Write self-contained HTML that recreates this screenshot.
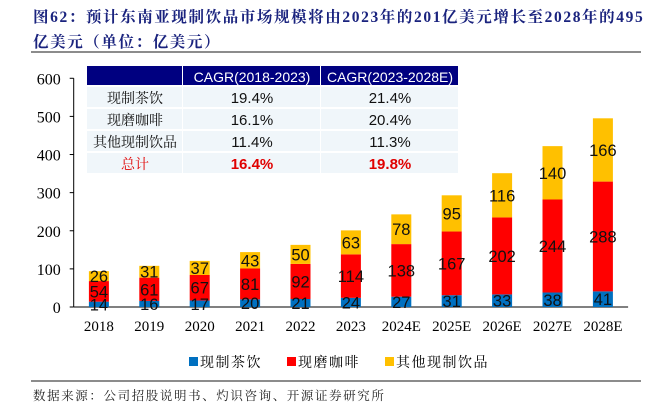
<!DOCTYPE html>
<html><head><meta charset="utf-8"><style>
body{margin:0;background:#fff;width:657px;height:408px;overflow:hidden;position:relative;font-family:"Liberation Sans","Noto Sans CJK SC",sans-serif}
.t{position:absolute;left:33px;top:5px;font-family:"Liberation Serif","Noto Serif CJK SC",serif;font-weight:bold;font-size:15.5px;color:#1a237e;line-height:25px;letter-spacing:1.6px;white-space:nowrap}
</style></head><body>
<div class="t">图62：预计东南亚现制饮品市场规模将由2023年的201亿美元增长至2028年的495<br>亿美元（单位：亿美元）</div>
<div style="position:absolute;left:31px;top:51px;width:610px;height:2px;background:#8c8c8c"></div>
<svg id="c" width="657" height="408" style="position:absolute;left:0;top:0"></svg>
<div style="position:absolute;left:31px;top:380px;width:610px;height:2px;background:#8c8c8c"></div>
<div style="position:absolute;left:33px;top:386px;font-size:12.5px;letter-spacing:1.6px;color:#222;font-family:'Liberation Serif','Noto Serif CJK SC',serif">数据来源：公司招股说明书、灼识咨询、开源证券研究所</div>
<script>
const categories=["2018","2019","2020","2021","2022","2023","2024E","2025E","2026E","2027E","2028E"];
const tea=[14,16,17,20,21,24,27,31,33,38,41];
const coffee=[54,61,67,81,92,114,138,167,202,244,288];
const other=[26,31,37,43,50,63,78,95,116,140,166];
const yTicks=[0,100,200,300,400,500,600];
const NS="http://www.w3.org/2000/svg",svg=document.getElementById('c');
const x0=73.7,bw=50.4,y0=307,k=0.3812;
const y=v=>y0-v*k, xc=i=>x0+bw*(i+0.5);
function mk(t,a,txt){const e=document.createElementNS(NS,t);for(const n in a)e.setAttribute(n,a[n]);if(txt!=null)e.textContent=txt;svg.appendChild(e);return e;}
let e=mk('line',{x1:x0,y1:y(600),x2:x0,y2:y0,stroke:'#000'});


e=mk('line',{x1:x0,y1:y0,x2:x0+bw*11,y2:y0,stroke:'#000'});


yTicks.forEach(v=>{mk('line',{x1:x0-4,y1:y(v),x2:x0,y2:y(v),stroke:'#000'});
e=mk('text',{x:x0-13,y:y(v)+6,'text-anchor':'end','font-size':16,'font-family':'Liberation Serif,serif'},v);

});
const cols=['#0070c0','#ff0000','#ffc000'],ser=[tea,coffee,other],names=['tea','coffee','other'];
categories.forEach((c,i)=>{let base=0;
ser.forEach((s,j)=>{const v=s[i];
e=mk('rect',{x:xc(i)-10,y:y(base+v),width:20,height:v*k,fill:cols[j]});


base+=v;});
base=0;
ser.forEach((s,j)=>{const v=s[i];
e=mk('text',{x:xc(i),y:y(base+v/2)+6,'text-anchor':'middle','font-size':16.5,fill:'#111'},v);


base+=v;});
e=mk('text',{x:xc(i),y:331,'text-anchor':'middle','font-size':15,'font-family':'Liberation Serif,serif'},c);

});
const leg=[['现制茶饮',200],['现磨咖啡',298],['其他现制饮品',396]];
leg.forEach((l,j)=>{mk('rect',{x:l[1]-11,y:357,width:9,height:9,fill:cols[j]});
e=mk('text',{x:l[1],y:367,'font-size':14,'letter-spacing':1.5,'font-family':'Noto Serif CJK SC,serif'},l[0]);

});
const tx=[87,183,321,459],ty=[66,86,108,130,152,174];
const rows=[['现制茶饮','19.4%','21.4%'],['现磨咖啡','16.1%','20.4%'],['其他现制饮品','11.4%','11.3%'],['总计','16.4%','19.8%']];
for(let c=0;c<3;c++){mk('rect',{x:tx[c],y:ty[0],width:tx[c+1]-tx[c]-1,height:19,fill:'#000080'});}
mk('text',{x:(tx[1]+tx[2])/2,y:82,'text-anchor':'middle','font-size':14,fill:'#fff'},'CAGR(2018-2023)');
mk('text',{x:(tx[2]+tx[3])/2,y:82,'text-anchor':'middle','font-size':14,fill:'#fff'},'CAGR(2023-2028E)');
rows.forEach((r,i)=>{for(let c=0;c<3;c++){mk('rect',{x:tx[c],y:ty[i+1]+1,width:tx[c+1]-tx[c]-1,height:20,fill:'#f0f6fa'});
const red=i==3;
e=mk('text',{x:(tx[c]+tx[c+1])/2,y:ty[i+1]+17,'text-anchor':'middle','font-size':c==0?14:15,fill:red?'#e00000':'#111','font-weight':red&&c>0?'bold':'normal','font-family':c==0?'Noto Serif CJK SC,serif':'Liberation Sans,sans-serif'},r[c]);

}});
</script>
</body></html>
